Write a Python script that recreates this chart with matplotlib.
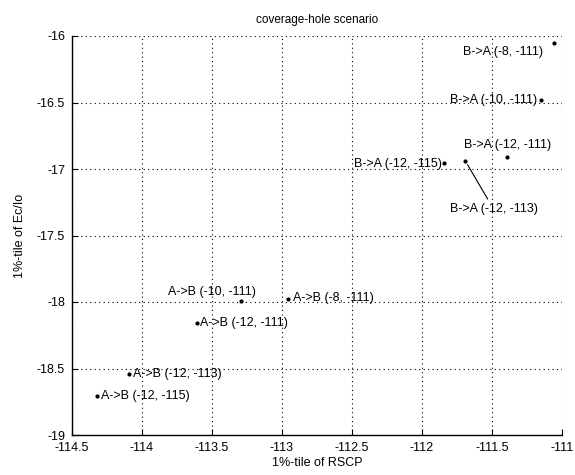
import matplotlib
matplotlib.use("Agg")
import matplotlib.pyplot as plt

plt.rcParams['font.family'] = ['Liberation Sans', 'DejaVu Sans']

labels = ["B->A (-8, -111)", "B->A (-10, -111)", "B->A (-12, -111)",
          "B->A (-12, -113)", "B->A (-12, -115)",
          "A->B (-10, -111)", "A->B (-8, -111)", "A->B (-12, -111)",
          "A->B (-12, -113)", "A->B (-12, -115)"]
rscp = [-111.06, -111.15, -111.39, -111.69, -111.84,
        -113.29, -112.96, -113.61, -114.09, -114.32]
ecio = [-16.05, -16.48, -16.91, -16.94, -16.955,
        -17.99, -17.98, -18.16, -18.54, -18.71]

xticks = [-114.5, -114, -113.5, -113, -112.5, -112, -111.5, -111]
yticks = [-16, -16.5, -17, -17.5, -18, -18.5, -19]

# label placement (offset pixels, horizontal alignment)
offsets = [(-11, -9, 'right'), (-4, 0, 'right'), (0, 12, 'center'),
           (29, -48, 'center'), (-3, -1, 'right'),
           (-73, 9, 'left'), (5, 1, 'left'), (3, 0, 'left'),
           (4, 0, 'left'), (4, 0, 'left')]

fig = plt.figure(figsize=(5.75, 4.75), dpi=100)
ax = fig.add_axes([72/575, 40/475, 490/575, 399/475])

ax.plot(rscp, ecio, linestyle='none', marker='.', color='black', markersize=4)

for i, (lab, x, y) in enumerate(zip(labels, rscp, ecio)):
    dx, dy, ha = offsets[i]
    if i == 3:
        ax.annotate(lab, xy=(x, y), xytext=(dx, dy), textcoords='offset pixels',
                    ha=ha, va='center', fontsize=9,
                    arrowprops=dict(arrowstyle='-', color='black', lw=0.8,
                                    shrinkA=1, shrinkB=3, relpos=(0.45, 1.0)))
    else:
        ax.annotate(lab, xy=(x, y), xytext=(dx, dy), textcoords='offset pixels',
                    ha=ha, va='center', fontsize=9)

ax.set_xlim(-114.5, -111)
ax.set_ylim(-19, -16)
ax.set_xticks(xticks)
ax.set_xticklabels([f"{t:g}" for t in xticks])
ax.set_yticks(yticks)
ax.set_yticklabels([f"{t:g}" for t in yticks])
ax.grid(True, linestyle=(0, (1, 3)), color='black', linewidth=0.8)
ax.spines['top'].set_visible(False)
ax.spines['right'].set_visible(False)
for s in ('left', 'bottom'):
    ax.spines[s].set_linewidth(1.0)
ax.tick_params(direction='in', length=4, labelsize=9, pad=5)

ax.set_title("coverage-hole scenario", fontsize=8.5, pad=9)
ax.set_xlabel("1%-tile of RSCP", fontsize=9, labelpad=2)
ax.set_ylabel("1%-tile of Ec/Io", fontsize=9, labelpad=8)

fig.savefig("out.png", dpi=100, facecolor='white')
